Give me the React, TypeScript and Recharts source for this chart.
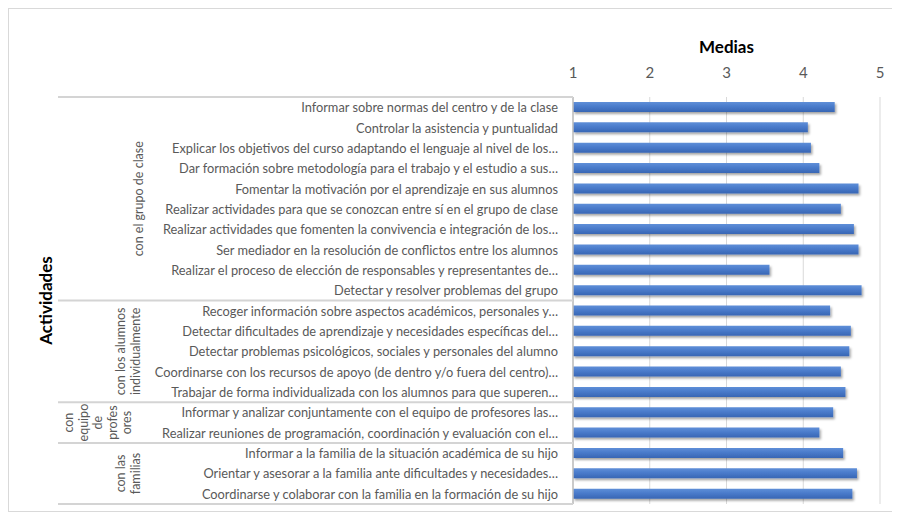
import { BarChart, Bar, XAxis, YAxis, CartesianGrid } from 'recharts';

// Activity labels, top to bottom
const categories = [
  'Informar sobre normas del centro y de la clase',
  'Controlar la asistencia y puntualidad',
  'Explicar los objetivos del curso adaptando el lenguaje al nivel de los…',
  'Dar formación sobre metodología para el trabajo y el estudio a sus…',
  'Fomentar la motivación por el aprendizaje en sus alumnos',
  'Realizar actividades para que se conozcan entre sí en el grupo de clase',
  'Realizar actividades que fomenten la convivencia e integración de los…',
  'Ser mediador en la resolución de conflictos entre los alumnos',
  'Realizar el proceso de elección de responsables y representantes de…',
  'Detectar y resolver problemas del grupo',
  'Recoger información sobre aspectos académicos, personales y…',
  'Detectar dificultades de aprendizaje y necesidades específicas del…',
  'Detectar problemas psicológicos, sociales y personales del alumno',
  'Coordinarse con los recursos de apoyo (de dentro y/o fuera del centro)…',
  'Trabajar de forma individualizada con los alumnos para que superen…',
  'Informar y analizar conjuntamente con el equipo de profesores las…',
  'Realizar reuniones de programación, coordinación y evaluación con el…',
  'Informar a la familia de la situación académica de su hijo',
  'Orientar y asesorar a la familia ante dificultades y necesidades…',
  'Coordinarse y colaborar con la familia en la formación de su hijo',
];

const medias = [
  4.41, 4.06, 4.1, 4.21, 4.72, 4.49, 4.66, 4.72, 3.56, 4.76,
  4.35, 4.62, 4.6, 4.49, 4.55, 4.39, 4.21, 4.52, 4.7, 4.64,
];

const groupLines = [
  ['con el grupo de clase'],
  ['con los alumnos', 'individualmente'],
  ['con', 'equipo', 'de', 'profes', 'ores'],
  ['con las', 'familias'],
];
const groupSizes = [10, 5, 2, 3];

const xTicks = [1, 2, 3, 4, 5];

const data = categories.map((name, i) => ({ name, media: medias[i] }));

const W = 884;
const H = 502;
const TOP = 88;
const BOTTOM = 7;
const AXIS_W = 564;
const ROW_H = (H - TOP - BOTTOM) / categories.length;
const FONT = 'Lato, "Open Sans", sans-serif';
const GREY = '#595959';

const groupStarts = groupSizes.map((_, g) => groupSizes.slice(0, g).reduce((a, b) => a + b, 0));

function CategoryTick(props: any) {
  const { x, y, index, payload } = props;
  const g = groupStarts.indexOf(index);
  const out: any[] = [];
  if (g >= 0) {
    out.push(
      <line key="sep" x1={49} x2={AXIS_W} y1={y - ROW_H / 2} y2={y - ROW_H / 2} stroke="#d4d4d4" strokeWidth={2} />
    );
    const lines = groupLines[g];
    const n = lines.length;
    const cy = y - ROW_H / 2 + (groupSizes[g] * ROW_H) / 2;
    const cx = 139 - 10 * n;
    lines.forEach((ln, j) => {
      const lx = cx + (j - (n - 1) / 2) * 14.5;
      out.push(
        <text
          key={'g' + j}
          x={lx}
          y={cy}
          transform={`rotate(-90, ${lx}, ${cy})`}
          textAnchor="middle"
          dominantBaseline="central"
          fill={GREY}
          fontSize={12.5}
          fontFamily={FONT}
        >
          {ln}
        </text>
      );
    });
  }
  if (index === categories.length - 1) {
    out.push(
      <line key="end" x1={49} x2={AXIS_W} y1={y + ROW_H / 2} y2={y + ROW_H / 2} stroke="#d4d4d4" strokeWidth={2} />
    );
  }
  return (
    <g>
      {out}
      <text x={x} y={y} textAnchor="end" dominantBaseline="central" fill={GREY} fontSize={12.8} fontFamily={FONT}>
        {payload.value}
      </text>
    </g>
  );
}

export default function App() {
  return (
    <div style={{ width: W + 2, height: H + 2, border: '1px solid #d9d9d9', boxSizing: 'border-box', background: '#fff' }}>
      <BarChart
        width={W}
        height={H}
        data={data}
        layout="vertical"
        margin={{ top: 0, right: 13, bottom: BOTTOM, left: 0 }}
        barCategoryGap={0}
      >
        <defs>
          <linearGradient id="barFill" x1="0" y1="0" x2="0" y2="1">
            <stop offset="0%" stopColor="#5f8fd8" />
            <stop offset="45%" stopColor="#4a7bcb" />
            <stop offset="100%" stopColor="#3866b4" />
          </linearGradient>
          <filter id="barShadow" x="-5%" y="-50%" width="110%" height="220%">
            <feDropShadow dx="1.5" dy="2" stdDeviation="1.2" floodColor="#000" floodOpacity="0.35" />
          </filter>
        </defs>
        <CartesianGrid horizontal={false} stroke="#d9d9d9" />
        <XAxis
          type="number"
          orientation="top"
          domain={[1, 5]}
          ticks={xTicks}
          height={TOP}
          axisLine={false}
          tickLine={false}
          tickMargin={13}
          tick={{ fill: GREY, fontSize: 15, fontFamily: FONT }}
          label={({ viewBox }: any) => (
            <text
              x={viewBox.x + viewBox.width / 2}
              y={44}
              textAnchor="middle"
              fontSize={17}
              fontWeight="bold"
              fontFamily={FONT}
              fill="#000"
            >
              Medias
            </text>
          )}
        />
        <YAxis
          type="category"
          dataKey="name"
          width={AXIS_W}
          interval={0}
          tickLine={false}
          tickMargin={9}
          axisLine={{ stroke: '#bfbfbf', strokeWidth: 1.5 }}
          tick={CategoryTick}
          label={({ viewBox }: any) => {
            const cy = viewBox.y + viewBox.height / 2;
            return (
              <text
                x={36}
                y={cy}
                transform={`rotate(-90, 36, ${cy})`}
                textAnchor="middle"
                dominantBaseline="central"
                fontSize={17}
                fontWeight="bold"
                fontFamily={FONT}
                fill="#000"
              >
                Actividades
              </text>
            );
          }}
        />
        <Bar
          dataKey="media"
          barSize={10}
          fill="url(#barFill)"
          filter="url(#barShadow)"
          isAnimationActive={false}
        />
      </BarChart>
    </div>
  );
}
